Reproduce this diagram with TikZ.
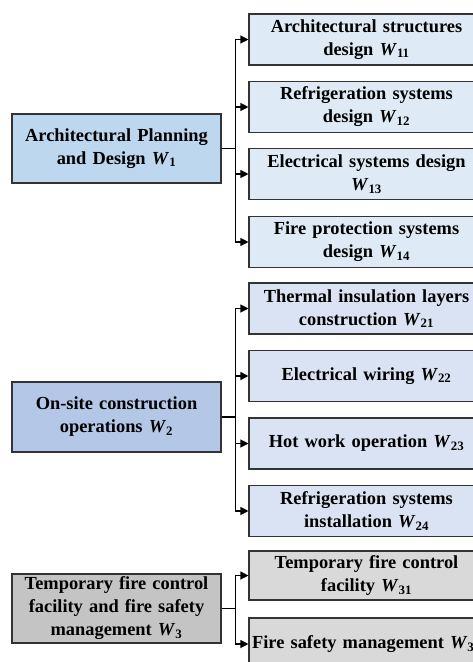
\documentclass[tikz,border=0pt]{standalone}
\usepackage{fontspec}
\setmainfont{Liberation Serif}
\usetikzlibrary{arrows.meta}
\newcommand\Wsym[1]{\textit{W}\textsubscript{#1}}
\definecolor{parentA}{HTML}{BDD7EE}
\definecolor{childA}{HTML}{DEEBF7}
\definecolor{parentB}{HTML}{B4C7E7}
\definecolor{childB}{HTML}{DAE3F3}
\definecolor{parentC}{HTML}{C4C4C4}
\definecolor{childC}{HTML}{D9D9D9}
\definecolor{edge}{HTML}{333333}
\tikzset{
  box/.style={draw=edge, line width=1.1pt, rectangle, align=center, inner sep=0pt,
    font=\fontsize{18.4}{23}\selectfont\bfseries},
  parentbox/.style={box, minimum width=209pt, text width=205pt},
  childbox/.style={box, minimum width=235pt, text width=231pt, minimum height=51pt},
  link/.style={line width=1.1pt, draw=black, -{Triangle[length=8pt,width=8pt]}},
}
\begin{document}
\begin{tikzpicture}[x=1pt,y=1pt]
\useasboundingbox (0,0) rectangle (473,-662);
\clip (0,0) rectangle (473,-662);
\fill[white] (0,0) rectangle (473,-662);

% group 1: planning and design
\node[parentbox, fill=parentA, minimum height=69pt] (p1) at (116.5,-148.5) {Architectural Planning\\and Design \Wsym{1}};
\node[childbox, fill=childA] (c11) at (366.5,-39.5) {Architectural structures\\design \Wsym{11}};
\node[childbox, fill=childA] (c12) at (366.5,-107) {Refrigeration systems\\design \Wsym{12}};
\node[childbox, fill=childA] (c13) at (366.5,-174) {Electrical systems design\\\Wsym{13}};
\node[childbox, fill=childA] (c14) at (366.5,-242) {Fire protection systems\\design \Wsym{14}};

% group 2: on-site construction
\node[parentbox, fill=parentB, minimum height=70pt] (p2) at (116.5,-417) {On-site construction\\operations \Wsym{2}};
\node[childbox, fill=childB] (c21) at (366.5,-308.5) {Thermal insulation layers\\construction \Wsym{21}};
\node[childbox, fill=childB] (c22) at (366.5,-376) {Electrical wiring \Wsym{22}};
\node[childbox, fill=childB] (c23) at (366.5,-443.5) {Hot work operation \Wsym{23}};
\node[childbox, fill=childB] (c24) at (366.5,-511) {Refrigeration systems\\installation \Wsym{24}};

% group 3: temporary fire control and safety management
\node[parentbox, fill=parentC, minimum height=69pt] (p3) at (116.5,-608.5) {Temporary fire control\\facility and fire safety\\management \Wsym{3}};
\node[childbox, fill=childC, minimum height=49pt] (c31) at (366.5,-575.5) {Temporary fire control\\facility \Wsym{31}};
\node[childbox, fill=childC, minimum height=52pt] (c32) at (366.5,-644) {Fire safety management \Wsym{32}};

% branch connectors
\foreach \c in {c11,c12,c13,c14}
  \draw[link] (p1.east) -- ++(14,0) |- (\c.west);
\foreach \c in {c21,c22,c23,c24}
  \draw[link] (p2.east) -- ++(14,0) |- (\c.west);
\foreach \c in {c31,c32}
  \draw[link] (p3.east) -- ++(14,0) |- (\c.west);
\end{tikzpicture}
\end{document}
